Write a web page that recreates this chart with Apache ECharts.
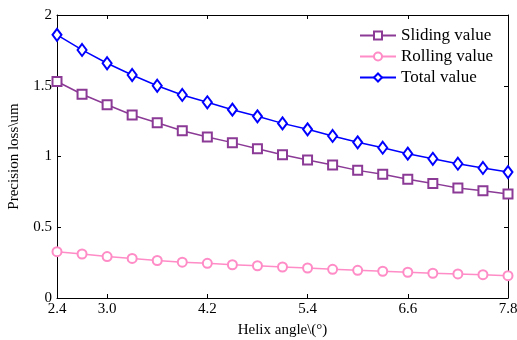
<!DOCTYPE html>
<html><head><meta charset="utf-8">
<script src="https://cdn.jsdelivr.net/npm/echarts@6/dist/echarts.min.js"></script>
<style>html,body{margin:0;padding:0;background:#fff}#c{width:517px;height:340px}</style>
</head><body><div id="c"></div>
<script>
const xValues = [2.4,2.7,3.0,3.3,3.6,3.9,4.2,4.5,4.8,5.1,5.4,5.7,6.0,6.3,6.6,6.9,7.2,7.5,7.8];
const sliding = [1.53,1.44,1.366,1.293,1.239,1.182,1.138,1.098,1.055,1.013,0.975,0.94,0.902,0.875,0.839,0.81,0.778,0.758,0.735];
const rolling = [0.327,0.311,0.293,0.28,0.265,0.253,0.245,0.235,0.228,0.219,0.212,0.203,0.196,0.189,0.182,0.175,0.17,0.165,0.158];
const total = [1.86,1.753,1.659,1.576,1.50,1.435,1.383,1.331,1.284,1.234,1.192,1.145,1.10,1.062,1.02,0.984,0.949,0.919,0.89];
const xTicks = [2.4,3.0,4.2,5.4,6.6,7.8];
const yTicks = [0,0.5,1,1.5,2];
const seriesNames = ['Sliding value','Rolling value','Total value'];

const font = 'Liberation Serif, Times New Roman, serif';
const pair = a => xValues.map((x,i)=>[x,a[i]]);
const axisLine = {show:true,onZero:false,lineStyle:{color:'#000',width:1}};
const chart = echarts.init(document.getElementById('c'));
chart.setOption({
  animation:false,
  grid:{left:57,right:9,top:15,bottom:42,outerBoundsMode:'none',containLabel:false},
  legend:{
    left:354, top:22, orient:'vertical', itemGap:4, itemWidth:36, itemHeight:10,
    textStyle:{fontFamily:font,fontSize:17,color:'#000'},
    data:seriesNames
  },
  xAxis:[{
    type:'value',min:2.4,max:7.8,
    name:'Helix angle\\(°)',nameLocation:'middle',nameGap:25,
    nameTextStyle:{fontFamily:font,fontSize:15,color:'#000'},
    axisLine:axisLine,
    axisTick:{show:true,inside:true,length:4,customValues:xTicks,lineStyle:{color:'#000'}},
    axisLabel:{customValues:xTicks,formatter:v=>v.toFixed(1),fontFamily:font,fontSize:15,color:'#000',margin:4},
    splitLine:{show:false}
  },{
    type:'value',min:2.4,max:7.8,position:'top',
    axisLine:axisLine,
    axisTick:{show:true,inside:true,length:4,customValues:xTicks,lineStyle:{color:'#000'}},
    axisLabel:{show:false},splitLine:{show:false}
  }],
  yAxis:[{
    type:'value',min:0,max:2,interval:0.5,
    name:'Precision loss\\um',nameLocation:'middle',nameGap:35,
    nameTextStyle:{fontFamily:font,fontSize:15,color:'#000'},
    axisLine:axisLine,
    axisTick:{show:true,inside:true,length:4,customValues:yTicks,lineStyle:{color:'#000'}},
    axisLabel:{customValues:yTicks,fontFamily:font,fontSize:15,color:'#000',margin:5},
    splitLine:{show:false}
  },{
    type:'value',min:0,max:2,interval:0.5,position:'right',
    axisLine:axisLine,
    axisTick:{show:true,inside:true,length:4,lineStyle:{color:'#000'}},
    axisLabel:{show:false},splitLine:{show:false}
  }],
  series:[
    {name:seriesNames[0],type:'line',data:pair(sliding),symbol:'emptyRect',symbolSize:9,
     lineStyle:{color:'#8B3A96',width:1.5},itemStyle:{color:'#8B3A96',borderWidth:1.5}},
    {name:seriesNames[1],type:'line',data:pair(rolling),symbol:'emptyCircle',symbolSize:9,
     lineStyle:{color:'#FF8CC6',width:1.5},itemStyle:{color:'#FF8CC6',borderWidth:1.5}},
    {name:seriesNames[2],type:'line',data:pair(total),symbol:'emptyDiamond',symbolSize:[9,12],
     lineStyle:{color:'#0000FF',width:1.5},itemStyle:{color:'#0000FF',borderWidth:1.5}}
  ]
});
</script></body></html>
